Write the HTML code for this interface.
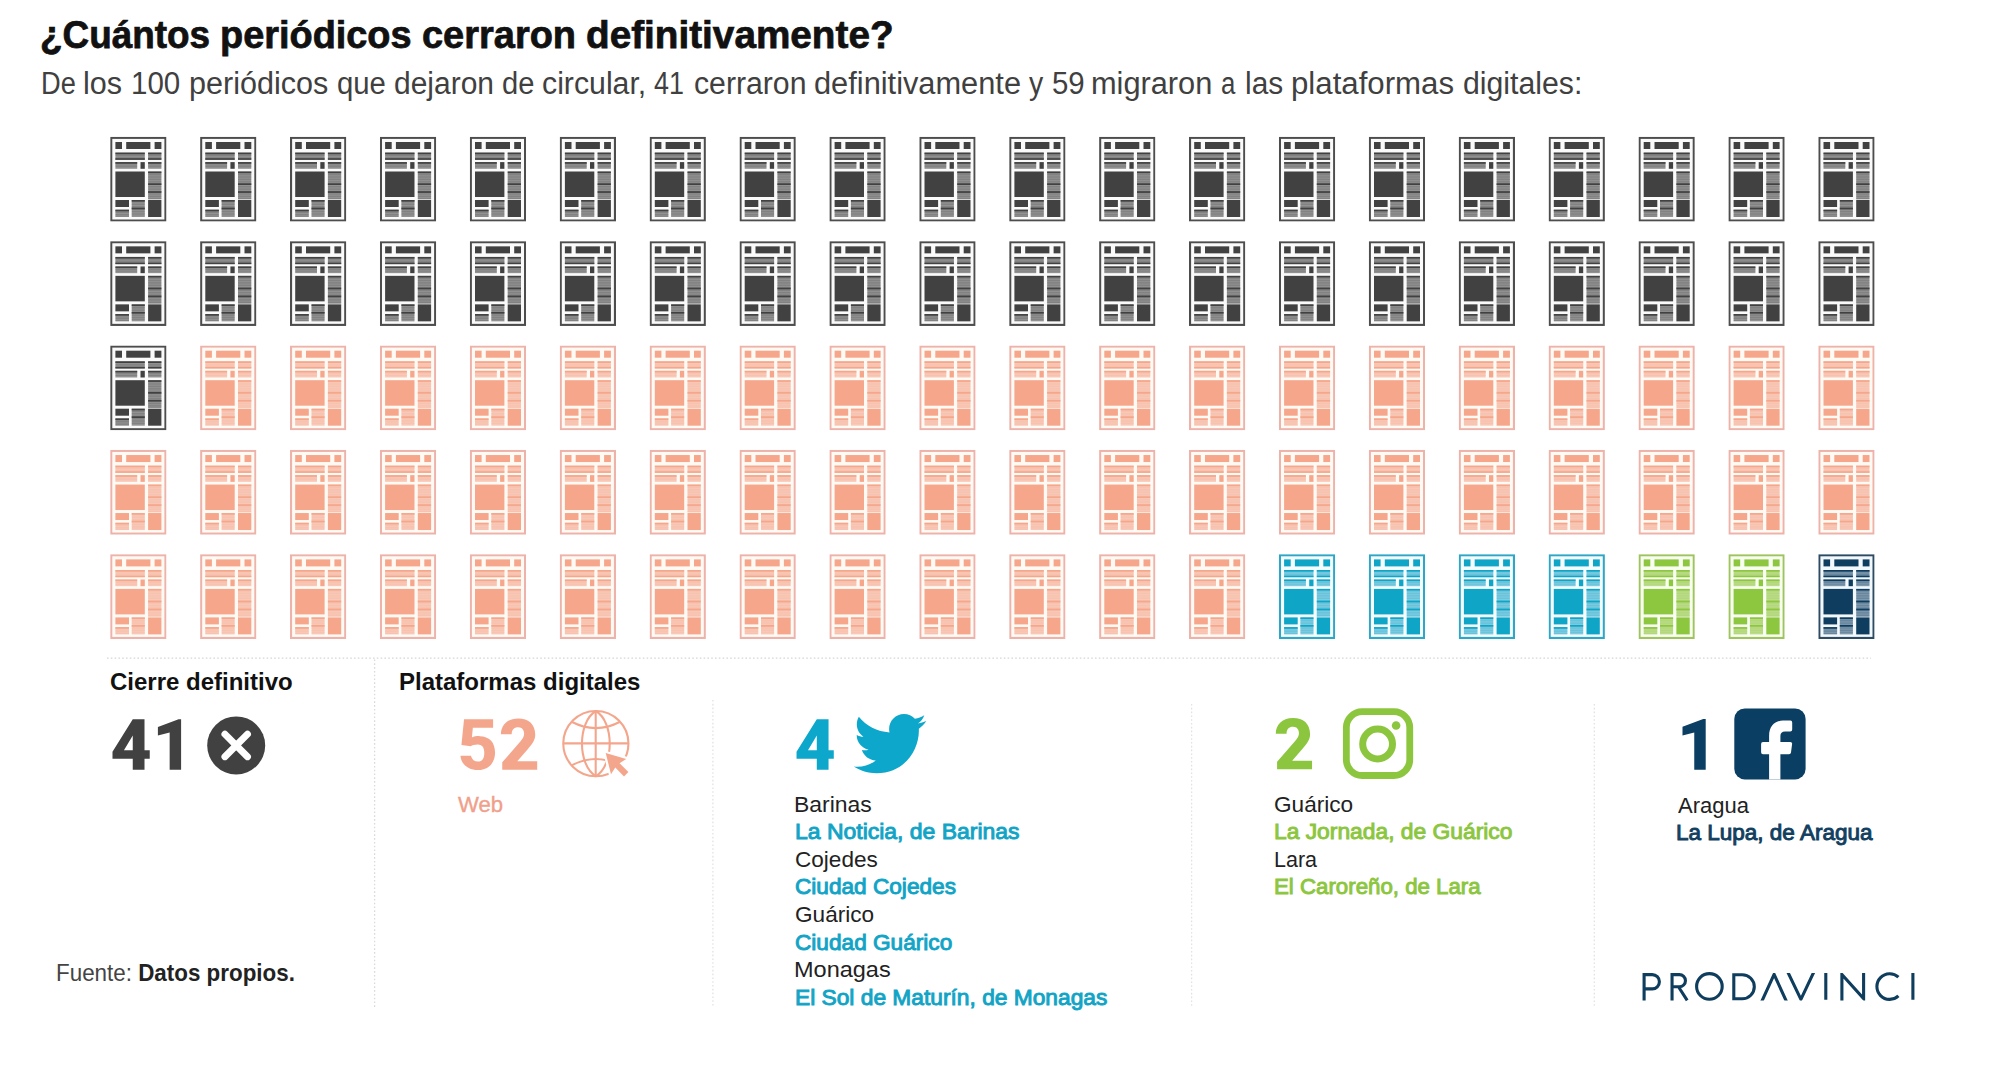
<!DOCTYPE html>
<html><head><meta charset="utf-8"><style>
html,body{margin:0;padding:0;background:#fff;}
body{width:2000px;height:1072px;position:relative;overflow:hidden;font-family:"Liberation Sans",sans-serif;}
.t{position:absolute;white-space:nowrap;transform-origin:0 0;}
svg.g{position:absolute;left:0;top:0;}
</style></head><body>
<svg class="g" width="2000" height="1072" viewBox="0 0 2000 1072">
<defs><symbol id="ig" viewBox="0 0 56.3 84.8"><rect x="1.05" y="1.05" width="54.2" height="82.7" fill="#fafafa" stroke="#4d4d4d" stroke-width="2.1"/><rect x="5.2" y="5.2" width="6.6" height="7.0" fill="#414141"/><rect x="16.0" y="5.2" width="24.2" height="7.0" fill="#414141"/><rect x="44.4" y="5.2" width="6.8" height="7.0" fill="#414141"/><rect x="5.2" y="15.8" width="29.4" height="7.2" fill="#929292"/><rect x="5.2" y="18.4" width="29.4" height="0.7" fill="#414141" fill-opacity="0.28"/><rect x="5.2" y="20.1" width="29.4" height="0.7" fill="#414141" fill-opacity="0.28"/><rect x="5.2" y="21.8" width="29.4" height="0.7" fill="#414141" fill-opacity="0.28"/><rect x="5.2" y="15.8" width="29.4" height="1.7" fill="#414141"/><rect x="5.2" y="21.4" width="29.4" height="1.6" fill="#414141"/><rect x="37.9" y="15.8" width="13.3" height="7.2" fill="#929292"/><rect x="37.9" y="18.4" width="13.3" height="0.7" fill="#414141" fill-opacity="0.28"/><rect x="37.9" y="20.1" width="13.3" height="0.7" fill="#414141" fill-opacity="0.28"/><rect x="37.9" y="21.8" width="13.3" height="0.7" fill="#414141" fill-opacity="0.28"/><rect x="37.9" y="15.8" width="13.3" height="1.7" fill="#414141"/><rect x="37.9" y="21.4" width="13.3" height="1.6" fill="#414141"/><rect x="5.2" y="25.3" width="21.8" height="6.7" fill="#929292"/><rect x="5.2" y="27.9" width="21.8" height="0.7" fill="#414141" fill-opacity="0.28"/><rect x="5.2" y="29.6" width="21.8" height="0.7" fill="#414141" fill-opacity="0.28"/><rect x="5.2" y="25.3" width="21.8" height="1.7" fill="#414141"/><rect x="30.3" y="25.3" width="4.3" height="6.7" fill="#414141"/><rect x="37.9" y="25.3" width="13.3" height="6.7" fill="#929292"/><rect x="37.9" y="27.9" width="13.3" height="0.7" fill="#414141" fill-opacity="0.28"/><rect x="37.9" y="29.6" width="13.3" height="0.7" fill="#414141" fill-opacity="0.28"/><rect x="37.9" y="25.3" width="13.3" height="1.7" fill="#414141"/><rect x="5.2" y="34.7" width="29.4" height="25.5" fill="#414141"/><rect x="37.9" y="34.7" width="13.3" height="27.9" fill="#929292"/><rect x="37.9" y="37.3" width="13.3" height="0.7" fill="#414141" fill-opacity="0.28"/><rect x="37.9" y="39.0" width="13.3" height="0.7" fill="#414141" fill-opacity="0.28"/><rect x="37.9" y="40.7" width="13.3" height="0.7" fill="#414141" fill-opacity="0.28"/><rect x="37.9" y="42.4" width="13.3" height="0.7" fill="#414141" fill-opacity="0.28"/><rect x="37.9" y="44.1" width="13.3" height="0.7" fill="#414141" fill-opacity="0.28"/><rect x="37.9" y="45.8" width="13.3" height="0.7" fill="#414141" fill-opacity="0.28"/><rect x="37.9" y="47.5" width="13.3" height="0.7" fill="#414141" fill-opacity="0.28"/><rect x="37.9" y="49.2" width="13.3" height="0.7" fill="#414141" fill-opacity="0.28"/><rect x="37.9" y="50.9" width="13.3" height="0.7" fill="#414141" fill-opacity="0.28"/><rect x="37.9" y="52.6" width="13.3" height="0.7" fill="#414141" fill-opacity="0.28"/><rect x="37.9" y="54.3" width="13.3" height="0.7" fill="#414141" fill-opacity="0.28"/><rect x="37.9" y="56.0" width="13.3" height="0.7" fill="#414141" fill-opacity="0.28"/><rect x="37.9" y="57.7" width="13.3" height="0.7" fill="#414141" fill-opacity="0.28"/><rect x="37.9" y="59.4" width="13.3" height="0.7" fill="#414141" fill-opacity="0.28"/><rect x="37.9" y="61.1" width="13.3" height="0.7" fill="#414141" fill-opacity="0.28"/><rect x="37.9" y="34.7" width="13.3" height="1.7" fill="#414141"/><rect x="37.9" y="46.5" width="13.3" height="1.7" fill="#414141"/><rect x="37.9" y="54.4" width="13.3" height="1.7" fill="#414141"/><rect x="5.2" y="63.2" width="13.6" height="7.0" fill="#414141"/><rect x="5.2" y="72.9" width="13.6" height="7.3" fill="#929292"/><rect x="5.2" y="75.5" width="13.6" height="0.7" fill="#414141" fill-opacity="0.28"/><rect x="5.2" y="77.2" width="13.6" height="0.7" fill="#414141" fill-opacity="0.28"/><rect x="5.2" y="78.9" width="13.6" height="0.7" fill="#414141" fill-opacity="0.28"/><rect x="5.2" y="72.9" width="13.6" height="1.7" fill="#414141"/><rect x="21.5" y="63.2" width="13.1" height="17.0" fill="#929292"/><rect x="21.5" y="65.8" width="13.1" height="0.7" fill="#414141" fill-opacity="0.28"/><rect x="21.5" y="67.5" width="13.1" height="0.7" fill="#414141" fill-opacity="0.28"/><rect x="21.5" y="69.2" width="13.1" height="0.7" fill="#414141" fill-opacity="0.28"/><rect x="21.5" y="70.9" width="13.1" height="0.7" fill="#414141" fill-opacity="0.28"/><rect x="21.5" y="72.6" width="13.1" height="0.7" fill="#414141" fill-opacity="0.28"/><rect x="21.5" y="74.3" width="13.1" height="0.7" fill="#414141" fill-opacity="0.28"/><rect x="21.5" y="76.0" width="13.1" height="0.7" fill="#414141" fill-opacity="0.28"/><rect x="21.5" y="77.7" width="13.1" height="0.7" fill="#414141" fill-opacity="0.28"/><rect x="21.5" y="63.2" width="13.1" height="1.7" fill="#414141"/><rect x="21.5" y="70.8" width="13.1" height="1.7" fill="#414141"/><rect x="37.9" y="63.2" width="13.3" height="17.0" fill="#414141"/></symbol><symbol id="is" viewBox="0 0 56.3 84.8"><rect x="1.05" y="1.05" width="54.2" height="82.7" fill="#fffaf4" stroke="#edb2a9" stroke-width="2.1"/><rect x="5.2" y="5.2" width="6.6" height="7.0" fill="#f5a68b"/><rect x="16.0" y="5.2" width="24.2" height="7.0" fill="#f5a68b"/><rect x="44.4" y="5.2" width="6.8" height="7.0" fill="#f5a68b"/><rect x="5.2" y="15.8" width="29.4" height="7.2" fill="#f8c9b8"/><rect x="5.2" y="18.4" width="29.4" height="0.7" fill="#f5a68b" fill-opacity="0.28"/><rect x="5.2" y="20.1" width="29.4" height="0.7" fill="#f5a68b" fill-opacity="0.28"/><rect x="5.2" y="21.8" width="29.4" height="0.7" fill="#f5a68b" fill-opacity="0.28"/><rect x="5.2" y="15.8" width="29.4" height="1.7" fill="#f5a68b"/><rect x="5.2" y="21.4" width="29.4" height="1.6" fill="#f5a68b"/><rect x="37.9" y="15.8" width="13.3" height="7.2" fill="#f8c9b8"/><rect x="37.9" y="18.4" width="13.3" height="0.7" fill="#f5a68b" fill-opacity="0.28"/><rect x="37.9" y="20.1" width="13.3" height="0.7" fill="#f5a68b" fill-opacity="0.28"/><rect x="37.9" y="21.8" width="13.3" height="0.7" fill="#f5a68b" fill-opacity="0.28"/><rect x="37.9" y="15.8" width="13.3" height="1.7" fill="#f5a68b"/><rect x="37.9" y="21.4" width="13.3" height="1.6" fill="#f5a68b"/><rect x="5.2" y="25.3" width="21.8" height="6.7" fill="#f8c9b8"/><rect x="5.2" y="27.9" width="21.8" height="0.7" fill="#f5a68b" fill-opacity="0.28"/><rect x="5.2" y="29.6" width="21.8" height="0.7" fill="#f5a68b" fill-opacity="0.28"/><rect x="5.2" y="25.3" width="21.8" height="1.7" fill="#f5a68b"/><rect x="30.3" y="25.3" width="4.3" height="6.7" fill="#f5a68b"/><rect x="37.9" y="25.3" width="13.3" height="6.7" fill="#f8c9b8"/><rect x="37.9" y="27.9" width="13.3" height="0.7" fill="#f5a68b" fill-opacity="0.28"/><rect x="37.9" y="29.6" width="13.3" height="0.7" fill="#f5a68b" fill-opacity="0.28"/><rect x="37.9" y="25.3" width="13.3" height="1.7" fill="#f5a68b"/><rect x="5.2" y="34.7" width="29.4" height="25.5" fill="#f5a68b"/><rect x="37.9" y="34.7" width="13.3" height="27.9" fill="#f8c9b8"/><rect x="37.9" y="37.3" width="13.3" height="0.7" fill="#f5a68b" fill-opacity="0.28"/><rect x="37.9" y="39.0" width="13.3" height="0.7" fill="#f5a68b" fill-opacity="0.28"/><rect x="37.9" y="40.7" width="13.3" height="0.7" fill="#f5a68b" fill-opacity="0.28"/><rect x="37.9" y="42.4" width="13.3" height="0.7" fill="#f5a68b" fill-opacity="0.28"/><rect x="37.9" y="44.1" width="13.3" height="0.7" fill="#f5a68b" fill-opacity="0.28"/><rect x="37.9" y="45.8" width="13.3" height="0.7" fill="#f5a68b" fill-opacity="0.28"/><rect x="37.9" y="47.5" width="13.3" height="0.7" fill="#f5a68b" fill-opacity="0.28"/><rect x="37.9" y="49.2" width="13.3" height="0.7" fill="#f5a68b" fill-opacity="0.28"/><rect x="37.9" y="50.9" width="13.3" height="0.7" fill="#f5a68b" fill-opacity="0.28"/><rect x="37.9" y="52.6" width="13.3" height="0.7" fill="#f5a68b" fill-opacity="0.28"/><rect x="37.9" y="54.3" width="13.3" height="0.7" fill="#f5a68b" fill-opacity="0.28"/><rect x="37.9" y="56.0" width="13.3" height="0.7" fill="#f5a68b" fill-opacity="0.28"/><rect x="37.9" y="57.7" width="13.3" height="0.7" fill="#f5a68b" fill-opacity="0.28"/><rect x="37.9" y="59.4" width="13.3" height="0.7" fill="#f5a68b" fill-opacity="0.28"/><rect x="37.9" y="61.1" width="13.3" height="0.7" fill="#f5a68b" fill-opacity="0.28"/><rect x="37.9" y="34.7" width="13.3" height="1.7" fill="#f5a68b"/><rect x="37.9" y="46.5" width="13.3" height="1.7" fill="#f5a68b"/><rect x="37.9" y="54.4" width="13.3" height="1.7" fill="#f5a68b"/><rect x="5.2" y="63.2" width="13.6" height="7.0" fill="#f5a68b"/><rect x="5.2" y="72.9" width="13.6" height="7.3" fill="#f8c9b8"/><rect x="5.2" y="75.5" width="13.6" height="0.7" fill="#f5a68b" fill-opacity="0.28"/><rect x="5.2" y="77.2" width="13.6" height="0.7" fill="#f5a68b" fill-opacity="0.28"/><rect x="5.2" y="78.9" width="13.6" height="0.7" fill="#f5a68b" fill-opacity="0.28"/><rect x="5.2" y="72.9" width="13.6" height="1.7" fill="#f5a68b"/><rect x="21.5" y="63.2" width="13.1" height="17.0" fill="#f8c9b8"/><rect x="21.5" y="65.8" width="13.1" height="0.7" fill="#f5a68b" fill-opacity="0.28"/><rect x="21.5" y="67.5" width="13.1" height="0.7" fill="#f5a68b" fill-opacity="0.28"/><rect x="21.5" y="69.2" width="13.1" height="0.7" fill="#f5a68b" fill-opacity="0.28"/><rect x="21.5" y="70.9" width="13.1" height="0.7" fill="#f5a68b" fill-opacity="0.28"/><rect x="21.5" y="72.6" width="13.1" height="0.7" fill="#f5a68b" fill-opacity="0.28"/><rect x="21.5" y="74.3" width="13.1" height="0.7" fill="#f5a68b" fill-opacity="0.28"/><rect x="21.5" y="76.0" width="13.1" height="0.7" fill="#f5a68b" fill-opacity="0.28"/><rect x="21.5" y="77.7" width="13.1" height="0.7" fill="#f5a68b" fill-opacity="0.28"/><rect x="21.5" y="63.2" width="13.1" height="1.7" fill="#f5a68b"/><rect x="21.5" y="70.8" width="13.1" height="1.7" fill="#f5a68b"/><rect x="37.9" y="63.2" width="13.3" height="17.0" fill="#f5a68b"/></symbol><symbol id="ib" viewBox="0 0 56.3 84.8"><rect x="1.05" y="1.05" width="54.2" height="82.7" fill="#f4fcff" stroke="#2ea6c6" stroke-width="2.1"/><rect x="5.2" y="5.2" width="6.6" height="7.0" fill="#0fa5c7"/><rect x="16.0" y="5.2" width="24.2" height="7.0" fill="#0fa5c7"/><rect x="44.4" y="5.2" width="6.8" height="7.0" fill="#0fa5c7"/><rect x="5.2" y="15.8" width="29.4" height="7.2" fill="#7fcbe0"/><rect x="5.2" y="18.4" width="29.4" height="0.7" fill="#0fa5c7" fill-opacity="0.28"/><rect x="5.2" y="20.1" width="29.4" height="0.7" fill="#0fa5c7" fill-opacity="0.28"/><rect x="5.2" y="21.8" width="29.4" height="0.7" fill="#0fa5c7" fill-opacity="0.28"/><rect x="5.2" y="15.8" width="29.4" height="1.7" fill="#0fa5c7"/><rect x="5.2" y="21.4" width="29.4" height="1.6" fill="#0fa5c7"/><rect x="37.9" y="15.8" width="13.3" height="7.2" fill="#7fcbe0"/><rect x="37.9" y="18.4" width="13.3" height="0.7" fill="#0fa5c7" fill-opacity="0.28"/><rect x="37.9" y="20.1" width="13.3" height="0.7" fill="#0fa5c7" fill-opacity="0.28"/><rect x="37.9" y="21.8" width="13.3" height="0.7" fill="#0fa5c7" fill-opacity="0.28"/><rect x="37.9" y="15.8" width="13.3" height="1.7" fill="#0fa5c7"/><rect x="37.9" y="21.4" width="13.3" height="1.6" fill="#0fa5c7"/><rect x="5.2" y="25.3" width="21.8" height="6.7" fill="#7fcbe0"/><rect x="5.2" y="27.9" width="21.8" height="0.7" fill="#0fa5c7" fill-opacity="0.28"/><rect x="5.2" y="29.6" width="21.8" height="0.7" fill="#0fa5c7" fill-opacity="0.28"/><rect x="5.2" y="25.3" width="21.8" height="1.7" fill="#0fa5c7"/><rect x="30.3" y="25.3" width="4.3" height="6.7" fill="#0fa5c7"/><rect x="37.9" y="25.3" width="13.3" height="6.7" fill="#7fcbe0"/><rect x="37.9" y="27.9" width="13.3" height="0.7" fill="#0fa5c7" fill-opacity="0.28"/><rect x="37.9" y="29.6" width="13.3" height="0.7" fill="#0fa5c7" fill-opacity="0.28"/><rect x="37.9" y="25.3" width="13.3" height="1.7" fill="#0fa5c7"/><rect x="5.2" y="34.7" width="29.4" height="25.5" fill="#0fa5c7"/><rect x="37.9" y="34.7" width="13.3" height="27.9" fill="#7fcbe0"/><rect x="37.9" y="37.3" width="13.3" height="0.7" fill="#0fa5c7" fill-opacity="0.28"/><rect x="37.9" y="39.0" width="13.3" height="0.7" fill="#0fa5c7" fill-opacity="0.28"/><rect x="37.9" y="40.7" width="13.3" height="0.7" fill="#0fa5c7" fill-opacity="0.28"/><rect x="37.9" y="42.4" width="13.3" height="0.7" fill="#0fa5c7" fill-opacity="0.28"/><rect x="37.9" y="44.1" width="13.3" height="0.7" fill="#0fa5c7" fill-opacity="0.28"/><rect x="37.9" y="45.8" width="13.3" height="0.7" fill="#0fa5c7" fill-opacity="0.28"/><rect x="37.9" y="47.5" width="13.3" height="0.7" fill="#0fa5c7" fill-opacity="0.28"/><rect x="37.9" y="49.2" width="13.3" height="0.7" fill="#0fa5c7" fill-opacity="0.28"/><rect x="37.9" y="50.9" width="13.3" height="0.7" fill="#0fa5c7" fill-opacity="0.28"/><rect x="37.9" y="52.6" width="13.3" height="0.7" fill="#0fa5c7" fill-opacity="0.28"/><rect x="37.9" y="54.3" width="13.3" height="0.7" fill="#0fa5c7" fill-opacity="0.28"/><rect x="37.9" y="56.0" width="13.3" height="0.7" fill="#0fa5c7" fill-opacity="0.28"/><rect x="37.9" y="57.7" width="13.3" height="0.7" fill="#0fa5c7" fill-opacity="0.28"/><rect x="37.9" y="59.4" width="13.3" height="0.7" fill="#0fa5c7" fill-opacity="0.28"/><rect x="37.9" y="61.1" width="13.3" height="0.7" fill="#0fa5c7" fill-opacity="0.28"/><rect x="37.9" y="34.7" width="13.3" height="1.7" fill="#0fa5c7"/><rect x="37.9" y="46.5" width="13.3" height="1.7" fill="#0fa5c7"/><rect x="37.9" y="54.4" width="13.3" height="1.7" fill="#0fa5c7"/><rect x="5.2" y="63.2" width="13.6" height="7.0" fill="#0fa5c7"/><rect x="5.2" y="72.9" width="13.6" height="7.3" fill="#7fcbe0"/><rect x="5.2" y="75.5" width="13.6" height="0.7" fill="#0fa5c7" fill-opacity="0.28"/><rect x="5.2" y="77.2" width="13.6" height="0.7" fill="#0fa5c7" fill-opacity="0.28"/><rect x="5.2" y="78.9" width="13.6" height="0.7" fill="#0fa5c7" fill-opacity="0.28"/><rect x="5.2" y="72.9" width="13.6" height="1.7" fill="#0fa5c7"/><rect x="21.5" y="63.2" width="13.1" height="17.0" fill="#7fcbe0"/><rect x="21.5" y="65.8" width="13.1" height="0.7" fill="#0fa5c7" fill-opacity="0.28"/><rect x="21.5" y="67.5" width="13.1" height="0.7" fill="#0fa5c7" fill-opacity="0.28"/><rect x="21.5" y="69.2" width="13.1" height="0.7" fill="#0fa5c7" fill-opacity="0.28"/><rect x="21.5" y="70.9" width="13.1" height="0.7" fill="#0fa5c7" fill-opacity="0.28"/><rect x="21.5" y="72.6" width="13.1" height="0.7" fill="#0fa5c7" fill-opacity="0.28"/><rect x="21.5" y="74.3" width="13.1" height="0.7" fill="#0fa5c7" fill-opacity="0.28"/><rect x="21.5" y="76.0" width="13.1" height="0.7" fill="#0fa5c7" fill-opacity="0.28"/><rect x="21.5" y="77.7" width="13.1" height="0.7" fill="#0fa5c7" fill-opacity="0.28"/><rect x="21.5" y="63.2" width="13.1" height="1.7" fill="#0fa5c7"/><rect x="21.5" y="70.8" width="13.1" height="1.7" fill="#0fa5c7"/><rect x="37.9" y="63.2" width="13.3" height="17.0" fill="#0fa5c7"/></symbol><symbol id="igr" viewBox="0 0 56.3 84.8"><rect x="1.05" y="1.05" width="54.2" height="82.7" fill="#f8fff0" stroke="#9fc45f" stroke-width="2.1"/><rect x="5.2" y="5.2" width="6.6" height="7.0" fill="#8dc63f"/><rect x="16.0" y="5.2" width="24.2" height="7.0" fill="#8dc63f"/><rect x="44.4" y="5.2" width="6.8" height="7.0" fill="#8dc63f"/><rect x="5.2" y="15.8" width="29.4" height="7.2" fill="#bddc8a"/><rect x="5.2" y="18.4" width="29.4" height="0.7" fill="#8dc63f" fill-opacity="0.28"/><rect x="5.2" y="20.1" width="29.4" height="0.7" fill="#8dc63f" fill-opacity="0.28"/><rect x="5.2" y="21.8" width="29.4" height="0.7" fill="#8dc63f" fill-opacity="0.28"/><rect x="5.2" y="15.8" width="29.4" height="1.7" fill="#8dc63f"/><rect x="5.2" y="21.4" width="29.4" height="1.6" fill="#8dc63f"/><rect x="37.9" y="15.8" width="13.3" height="7.2" fill="#bddc8a"/><rect x="37.9" y="18.4" width="13.3" height="0.7" fill="#8dc63f" fill-opacity="0.28"/><rect x="37.9" y="20.1" width="13.3" height="0.7" fill="#8dc63f" fill-opacity="0.28"/><rect x="37.9" y="21.8" width="13.3" height="0.7" fill="#8dc63f" fill-opacity="0.28"/><rect x="37.9" y="15.8" width="13.3" height="1.7" fill="#8dc63f"/><rect x="37.9" y="21.4" width="13.3" height="1.6" fill="#8dc63f"/><rect x="5.2" y="25.3" width="21.8" height="6.7" fill="#bddc8a"/><rect x="5.2" y="27.9" width="21.8" height="0.7" fill="#8dc63f" fill-opacity="0.28"/><rect x="5.2" y="29.6" width="21.8" height="0.7" fill="#8dc63f" fill-opacity="0.28"/><rect x="5.2" y="25.3" width="21.8" height="1.7" fill="#8dc63f"/><rect x="30.3" y="25.3" width="4.3" height="6.7" fill="#8dc63f"/><rect x="37.9" y="25.3" width="13.3" height="6.7" fill="#bddc8a"/><rect x="37.9" y="27.9" width="13.3" height="0.7" fill="#8dc63f" fill-opacity="0.28"/><rect x="37.9" y="29.6" width="13.3" height="0.7" fill="#8dc63f" fill-opacity="0.28"/><rect x="37.9" y="25.3" width="13.3" height="1.7" fill="#8dc63f"/><rect x="5.2" y="34.7" width="29.4" height="25.5" fill="#8dc63f"/><rect x="37.9" y="34.7" width="13.3" height="27.9" fill="#bddc8a"/><rect x="37.9" y="37.3" width="13.3" height="0.7" fill="#8dc63f" fill-opacity="0.28"/><rect x="37.9" y="39.0" width="13.3" height="0.7" fill="#8dc63f" fill-opacity="0.28"/><rect x="37.9" y="40.7" width="13.3" height="0.7" fill="#8dc63f" fill-opacity="0.28"/><rect x="37.9" y="42.4" width="13.3" height="0.7" fill="#8dc63f" fill-opacity="0.28"/><rect x="37.9" y="44.1" width="13.3" height="0.7" fill="#8dc63f" fill-opacity="0.28"/><rect x="37.9" y="45.8" width="13.3" height="0.7" fill="#8dc63f" fill-opacity="0.28"/><rect x="37.9" y="47.5" width="13.3" height="0.7" fill="#8dc63f" fill-opacity="0.28"/><rect x="37.9" y="49.2" width="13.3" height="0.7" fill="#8dc63f" fill-opacity="0.28"/><rect x="37.9" y="50.9" width="13.3" height="0.7" fill="#8dc63f" fill-opacity="0.28"/><rect x="37.9" y="52.6" width="13.3" height="0.7" fill="#8dc63f" fill-opacity="0.28"/><rect x="37.9" y="54.3" width="13.3" height="0.7" fill="#8dc63f" fill-opacity="0.28"/><rect x="37.9" y="56.0" width="13.3" height="0.7" fill="#8dc63f" fill-opacity="0.28"/><rect x="37.9" y="57.7" width="13.3" height="0.7" fill="#8dc63f" fill-opacity="0.28"/><rect x="37.9" y="59.4" width="13.3" height="0.7" fill="#8dc63f" fill-opacity="0.28"/><rect x="37.9" y="61.1" width="13.3" height="0.7" fill="#8dc63f" fill-opacity="0.28"/><rect x="37.9" y="34.7" width="13.3" height="1.7" fill="#8dc63f"/><rect x="37.9" y="46.5" width="13.3" height="1.7" fill="#8dc63f"/><rect x="37.9" y="54.4" width="13.3" height="1.7" fill="#8dc63f"/><rect x="5.2" y="63.2" width="13.6" height="7.0" fill="#8dc63f"/><rect x="5.2" y="72.9" width="13.6" height="7.3" fill="#bddc8a"/><rect x="5.2" y="75.5" width="13.6" height="0.7" fill="#8dc63f" fill-opacity="0.28"/><rect x="5.2" y="77.2" width="13.6" height="0.7" fill="#8dc63f" fill-opacity="0.28"/><rect x="5.2" y="78.9" width="13.6" height="0.7" fill="#8dc63f" fill-opacity="0.28"/><rect x="5.2" y="72.9" width="13.6" height="1.7" fill="#8dc63f"/><rect x="21.5" y="63.2" width="13.1" height="17.0" fill="#bddc8a"/><rect x="21.5" y="65.8" width="13.1" height="0.7" fill="#8dc63f" fill-opacity="0.28"/><rect x="21.5" y="67.5" width="13.1" height="0.7" fill="#8dc63f" fill-opacity="0.28"/><rect x="21.5" y="69.2" width="13.1" height="0.7" fill="#8dc63f" fill-opacity="0.28"/><rect x="21.5" y="70.9" width="13.1" height="0.7" fill="#8dc63f" fill-opacity="0.28"/><rect x="21.5" y="72.6" width="13.1" height="0.7" fill="#8dc63f" fill-opacity="0.28"/><rect x="21.5" y="74.3" width="13.1" height="0.7" fill="#8dc63f" fill-opacity="0.28"/><rect x="21.5" y="76.0" width="13.1" height="0.7" fill="#8dc63f" fill-opacity="0.28"/><rect x="21.5" y="77.7" width="13.1" height="0.7" fill="#8dc63f" fill-opacity="0.28"/><rect x="21.5" y="63.2" width="13.1" height="1.7" fill="#8dc63f"/><rect x="21.5" y="70.8" width="13.1" height="1.7" fill="#8dc63f"/><rect x="37.9" y="63.2" width="13.3" height="17.0" fill="#8dc63f"/></symbol><symbol id="in" viewBox="0 0 56.3 84.8"><rect x="1.05" y="1.05" width="54.2" height="82.7" fill="#f2f8fc" stroke="#2d4c64" stroke-width="2.1"/><rect x="5.2" y="5.2" width="6.6" height="7.0" fill="#0f3d5f"/><rect x="16.0" y="5.2" width="24.2" height="7.0" fill="#0f3d5f"/><rect x="44.4" y="5.2" width="6.8" height="7.0" fill="#0f3d5f"/><rect x="5.2" y="15.8" width="29.4" height="7.2" fill="#7f99ad"/><rect x="5.2" y="18.4" width="29.4" height="0.7" fill="#0f3d5f" fill-opacity="0.28"/><rect x="5.2" y="20.1" width="29.4" height="0.7" fill="#0f3d5f" fill-opacity="0.28"/><rect x="5.2" y="21.8" width="29.4" height="0.7" fill="#0f3d5f" fill-opacity="0.28"/><rect x="5.2" y="15.8" width="29.4" height="1.7" fill="#0f3d5f"/><rect x="5.2" y="21.4" width="29.4" height="1.6" fill="#0f3d5f"/><rect x="37.9" y="15.8" width="13.3" height="7.2" fill="#7f99ad"/><rect x="37.9" y="18.4" width="13.3" height="0.7" fill="#0f3d5f" fill-opacity="0.28"/><rect x="37.9" y="20.1" width="13.3" height="0.7" fill="#0f3d5f" fill-opacity="0.28"/><rect x="37.9" y="21.8" width="13.3" height="0.7" fill="#0f3d5f" fill-opacity="0.28"/><rect x="37.9" y="15.8" width="13.3" height="1.7" fill="#0f3d5f"/><rect x="37.9" y="21.4" width="13.3" height="1.6" fill="#0f3d5f"/><rect x="5.2" y="25.3" width="21.8" height="6.7" fill="#7f99ad"/><rect x="5.2" y="27.9" width="21.8" height="0.7" fill="#0f3d5f" fill-opacity="0.28"/><rect x="5.2" y="29.6" width="21.8" height="0.7" fill="#0f3d5f" fill-opacity="0.28"/><rect x="5.2" y="25.3" width="21.8" height="1.7" fill="#0f3d5f"/><rect x="30.3" y="25.3" width="4.3" height="6.7" fill="#0f3d5f"/><rect x="37.9" y="25.3" width="13.3" height="6.7" fill="#7f99ad"/><rect x="37.9" y="27.9" width="13.3" height="0.7" fill="#0f3d5f" fill-opacity="0.28"/><rect x="37.9" y="29.6" width="13.3" height="0.7" fill="#0f3d5f" fill-opacity="0.28"/><rect x="37.9" y="25.3" width="13.3" height="1.7" fill="#0f3d5f"/><rect x="5.2" y="34.7" width="29.4" height="25.5" fill="#0f3d5f"/><rect x="37.9" y="34.7" width="13.3" height="27.9" fill="#7f99ad"/><rect x="37.9" y="37.3" width="13.3" height="0.7" fill="#0f3d5f" fill-opacity="0.28"/><rect x="37.9" y="39.0" width="13.3" height="0.7" fill="#0f3d5f" fill-opacity="0.28"/><rect x="37.9" y="40.7" width="13.3" height="0.7" fill="#0f3d5f" fill-opacity="0.28"/><rect x="37.9" y="42.4" width="13.3" height="0.7" fill="#0f3d5f" fill-opacity="0.28"/><rect x="37.9" y="44.1" width="13.3" height="0.7" fill="#0f3d5f" fill-opacity="0.28"/><rect x="37.9" y="45.8" width="13.3" height="0.7" fill="#0f3d5f" fill-opacity="0.28"/><rect x="37.9" y="47.5" width="13.3" height="0.7" fill="#0f3d5f" fill-opacity="0.28"/><rect x="37.9" y="49.2" width="13.3" height="0.7" fill="#0f3d5f" fill-opacity="0.28"/><rect x="37.9" y="50.9" width="13.3" height="0.7" fill="#0f3d5f" fill-opacity="0.28"/><rect x="37.9" y="52.6" width="13.3" height="0.7" fill="#0f3d5f" fill-opacity="0.28"/><rect x="37.9" y="54.3" width="13.3" height="0.7" fill="#0f3d5f" fill-opacity="0.28"/><rect x="37.9" y="56.0" width="13.3" height="0.7" fill="#0f3d5f" fill-opacity="0.28"/><rect x="37.9" y="57.7" width="13.3" height="0.7" fill="#0f3d5f" fill-opacity="0.28"/><rect x="37.9" y="59.4" width="13.3" height="0.7" fill="#0f3d5f" fill-opacity="0.28"/><rect x="37.9" y="61.1" width="13.3" height="0.7" fill="#0f3d5f" fill-opacity="0.28"/><rect x="37.9" y="34.7" width="13.3" height="1.7" fill="#0f3d5f"/><rect x="37.9" y="46.5" width="13.3" height="1.7" fill="#0f3d5f"/><rect x="37.9" y="54.4" width="13.3" height="1.7" fill="#0f3d5f"/><rect x="5.2" y="63.2" width="13.6" height="7.0" fill="#0f3d5f"/><rect x="5.2" y="72.9" width="13.6" height="7.3" fill="#7f99ad"/><rect x="5.2" y="75.5" width="13.6" height="0.7" fill="#0f3d5f" fill-opacity="0.28"/><rect x="5.2" y="77.2" width="13.6" height="0.7" fill="#0f3d5f" fill-opacity="0.28"/><rect x="5.2" y="78.9" width="13.6" height="0.7" fill="#0f3d5f" fill-opacity="0.28"/><rect x="5.2" y="72.9" width="13.6" height="1.7" fill="#0f3d5f"/><rect x="21.5" y="63.2" width="13.1" height="17.0" fill="#7f99ad"/><rect x="21.5" y="65.8" width="13.1" height="0.7" fill="#0f3d5f" fill-opacity="0.28"/><rect x="21.5" y="67.5" width="13.1" height="0.7" fill="#0f3d5f" fill-opacity="0.28"/><rect x="21.5" y="69.2" width="13.1" height="0.7" fill="#0f3d5f" fill-opacity="0.28"/><rect x="21.5" y="70.9" width="13.1" height="0.7" fill="#0f3d5f" fill-opacity="0.28"/><rect x="21.5" y="72.6" width="13.1" height="0.7" fill="#0f3d5f" fill-opacity="0.28"/><rect x="21.5" y="74.3" width="13.1" height="0.7" fill="#0f3d5f" fill-opacity="0.28"/><rect x="21.5" y="76.0" width="13.1" height="0.7" fill="#0f3d5f" fill-opacity="0.28"/><rect x="21.5" y="77.7" width="13.1" height="0.7" fill="#0f3d5f" fill-opacity="0.28"/><rect x="21.5" y="63.2" width="13.1" height="1.7" fill="#0f3d5f"/><rect x="21.5" y="70.8" width="13.1" height="1.7" fill="#0f3d5f"/><rect x="37.9" y="63.2" width="13.3" height="17.0" fill="#0f3d5f"/></symbol></defs>
<use href="#ig" x="110.20" y="136.80" width="56.3" height="84.8"/><use href="#ig" x="200.10" y="136.80" width="56.3" height="84.8"/><use href="#ig" x="290.00" y="136.80" width="56.3" height="84.8"/><use href="#ig" x="379.90" y="136.80" width="56.3" height="84.8"/><use href="#ig" x="469.80" y="136.80" width="56.3" height="84.8"/><use href="#ig" x="559.70" y="136.80" width="56.3" height="84.8"/><use href="#ig" x="649.60" y="136.80" width="56.3" height="84.8"/><use href="#ig" x="739.50" y="136.80" width="56.3" height="84.8"/><use href="#ig" x="829.40" y="136.80" width="56.3" height="84.8"/><use href="#ig" x="919.30" y="136.80" width="56.3" height="84.8"/><use href="#ig" x="1009.20" y="136.80" width="56.3" height="84.8"/><use href="#ig" x="1099.10" y="136.80" width="56.3" height="84.8"/><use href="#ig" x="1189.00" y="136.80" width="56.3" height="84.8"/><use href="#ig" x="1278.90" y="136.80" width="56.3" height="84.8"/><use href="#ig" x="1368.80" y="136.80" width="56.3" height="84.8"/><use href="#ig" x="1458.70" y="136.80" width="56.3" height="84.8"/><use href="#ig" x="1548.60" y="136.80" width="56.3" height="84.8"/><use href="#ig" x="1638.50" y="136.80" width="56.3" height="84.8"/><use href="#ig" x="1728.40" y="136.80" width="56.3" height="84.8"/><use href="#ig" x="1818.30" y="136.80" width="56.3" height="84.8"/><use href="#ig" x="110.20" y="241.15" width="56.3" height="84.8"/><use href="#ig" x="200.10" y="241.15" width="56.3" height="84.8"/><use href="#ig" x="290.00" y="241.15" width="56.3" height="84.8"/><use href="#ig" x="379.90" y="241.15" width="56.3" height="84.8"/><use href="#ig" x="469.80" y="241.15" width="56.3" height="84.8"/><use href="#ig" x="559.70" y="241.15" width="56.3" height="84.8"/><use href="#ig" x="649.60" y="241.15" width="56.3" height="84.8"/><use href="#ig" x="739.50" y="241.15" width="56.3" height="84.8"/><use href="#ig" x="829.40" y="241.15" width="56.3" height="84.8"/><use href="#ig" x="919.30" y="241.15" width="56.3" height="84.8"/><use href="#ig" x="1009.20" y="241.15" width="56.3" height="84.8"/><use href="#ig" x="1099.10" y="241.15" width="56.3" height="84.8"/><use href="#ig" x="1189.00" y="241.15" width="56.3" height="84.8"/><use href="#ig" x="1278.90" y="241.15" width="56.3" height="84.8"/><use href="#ig" x="1368.80" y="241.15" width="56.3" height="84.8"/><use href="#ig" x="1458.70" y="241.15" width="56.3" height="84.8"/><use href="#ig" x="1548.60" y="241.15" width="56.3" height="84.8"/><use href="#ig" x="1638.50" y="241.15" width="56.3" height="84.8"/><use href="#ig" x="1728.40" y="241.15" width="56.3" height="84.8"/><use href="#ig" x="1818.30" y="241.15" width="56.3" height="84.8"/><use href="#ig" x="110.20" y="345.50" width="56.3" height="84.8"/><use href="#is" x="200.10" y="345.50" width="56.3" height="84.8"/><use href="#is" x="290.00" y="345.50" width="56.3" height="84.8"/><use href="#is" x="379.90" y="345.50" width="56.3" height="84.8"/><use href="#is" x="469.80" y="345.50" width="56.3" height="84.8"/><use href="#is" x="559.70" y="345.50" width="56.3" height="84.8"/><use href="#is" x="649.60" y="345.50" width="56.3" height="84.8"/><use href="#is" x="739.50" y="345.50" width="56.3" height="84.8"/><use href="#is" x="829.40" y="345.50" width="56.3" height="84.8"/><use href="#is" x="919.30" y="345.50" width="56.3" height="84.8"/><use href="#is" x="1009.20" y="345.50" width="56.3" height="84.8"/><use href="#is" x="1099.10" y="345.50" width="56.3" height="84.8"/><use href="#is" x="1189.00" y="345.50" width="56.3" height="84.8"/><use href="#is" x="1278.90" y="345.50" width="56.3" height="84.8"/><use href="#is" x="1368.80" y="345.50" width="56.3" height="84.8"/><use href="#is" x="1458.70" y="345.50" width="56.3" height="84.8"/><use href="#is" x="1548.60" y="345.50" width="56.3" height="84.8"/><use href="#is" x="1638.50" y="345.50" width="56.3" height="84.8"/><use href="#is" x="1728.40" y="345.50" width="56.3" height="84.8"/><use href="#is" x="1818.30" y="345.50" width="56.3" height="84.8"/><use href="#is" x="110.20" y="449.85" width="56.3" height="84.8"/><use href="#is" x="200.10" y="449.85" width="56.3" height="84.8"/><use href="#is" x="290.00" y="449.85" width="56.3" height="84.8"/><use href="#is" x="379.90" y="449.85" width="56.3" height="84.8"/><use href="#is" x="469.80" y="449.85" width="56.3" height="84.8"/><use href="#is" x="559.70" y="449.85" width="56.3" height="84.8"/><use href="#is" x="649.60" y="449.85" width="56.3" height="84.8"/><use href="#is" x="739.50" y="449.85" width="56.3" height="84.8"/><use href="#is" x="829.40" y="449.85" width="56.3" height="84.8"/><use href="#is" x="919.30" y="449.85" width="56.3" height="84.8"/><use href="#is" x="1009.20" y="449.85" width="56.3" height="84.8"/><use href="#is" x="1099.10" y="449.85" width="56.3" height="84.8"/><use href="#is" x="1189.00" y="449.85" width="56.3" height="84.8"/><use href="#is" x="1278.90" y="449.85" width="56.3" height="84.8"/><use href="#is" x="1368.80" y="449.85" width="56.3" height="84.8"/><use href="#is" x="1458.70" y="449.85" width="56.3" height="84.8"/><use href="#is" x="1548.60" y="449.85" width="56.3" height="84.8"/><use href="#is" x="1638.50" y="449.85" width="56.3" height="84.8"/><use href="#is" x="1728.40" y="449.85" width="56.3" height="84.8"/><use href="#is" x="1818.30" y="449.85" width="56.3" height="84.8"/><use href="#is" x="110.20" y="554.20" width="56.3" height="84.8"/><use href="#is" x="200.10" y="554.20" width="56.3" height="84.8"/><use href="#is" x="290.00" y="554.20" width="56.3" height="84.8"/><use href="#is" x="379.90" y="554.20" width="56.3" height="84.8"/><use href="#is" x="469.80" y="554.20" width="56.3" height="84.8"/><use href="#is" x="559.70" y="554.20" width="56.3" height="84.8"/><use href="#is" x="649.60" y="554.20" width="56.3" height="84.8"/><use href="#is" x="739.50" y="554.20" width="56.3" height="84.8"/><use href="#is" x="829.40" y="554.20" width="56.3" height="84.8"/><use href="#is" x="919.30" y="554.20" width="56.3" height="84.8"/><use href="#is" x="1009.20" y="554.20" width="56.3" height="84.8"/><use href="#is" x="1099.10" y="554.20" width="56.3" height="84.8"/><use href="#is" x="1189.00" y="554.20" width="56.3" height="84.8"/><use href="#ib" x="1278.90" y="554.20" width="56.3" height="84.8"/><use href="#ib" x="1368.80" y="554.20" width="56.3" height="84.8"/><use href="#ib" x="1458.70" y="554.20" width="56.3" height="84.8"/><use href="#ib" x="1548.60" y="554.20" width="56.3" height="84.8"/><use href="#igr" x="1638.50" y="554.20" width="56.3" height="84.8"/><use href="#igr" x="1728.40" y="554.20" width="56.3" height="84.8"/><use href="#in" x="1818.30" y="554.20" width="56.3" height="84.8"/>
<line x1="107" y1="658.2" x2="1871" y2="658.2" stroke="#d6d6d6" stroke-width="1.3" stroke-dasharray="1.6 2.2"/>
<line x1="374.6" y1="659.5" x2="374.6" y2="1007" stroke="#dadada" stroke-width="1.3" stroke-dasharray="1.6 2.2"/>
<line x1="712.9" y1="700" x2="712.9" y2="1007" stroke="#e2e2e2" stroke-width="1.3" stroke-dasharray="1.6 2.2"/>
<line x1="1191.6" y1="704" x2="1191.6" y2="1007" stroke="#e2e2e2" stroke-width="1.3" stroke-dasharray="1.6 2.2"/>
<line x1="1594.3" y1="704" x2="1594.3" y2="1007" stroke="#e2e2e2" stroke-width="1.3" stroke-dasharray="1.6 2.2"/>
<circle cx="236.2" cy="745.4" r="29" fill="#414141"/><path d="M224.89999999999998 734.1 L247.5 756.6999999999999 M247.5 734.1 L224.89999999999998 756.6999999999999" stroke="#fff" stroke-width="6.9" stroke-linecap="round"/><g fill="none" stroke="#f4a68c" stroke-width="2.1"><circle cx="595.85" cy="743.6" r="32.6"/><path d="M595.85 711.0 C614.35 722.0 614.35 765.2 595.85 776.2 C577.35 765.2 577.35 722.0 595.85 711.0"/><line x1="595.7" y1="711.0" x2="595.7" y2="776.2"/><line x1="563.25" y1="743.4" x2="628.45" y2="743.4"/><path d="M571.61 721.8 Q595.85 734.5 620.09 721.8"/><path d="M571.61 765.4 Q595.85 752.5 620.09 765.4"/></g><path d="M605.7 753.1 L626.2 759 L619.6 763.3 L628.4 772.1 L624 776.4 L615.3 767.6 L611 774.2 Z" fill="#fff" stroke="#fff" stroke-width="4.5" stroke-linejoin="round"/><path d="M605.7 753.1 L626.2 759 L619.6 763.3 L628.4 772.1 L624 776.4 L615.3 767.6 L611 774.2 Z" fill="#f4a68c"/><g transform="translate(853.8,712.8) scale(0.302,0.304)"><path fill="#0ca7cb" d="M240 27.3c-8.8 3.9-18.3 6.6-28.2 7.8 10.2-6.1 17.9-15.7 21.6-27.2-9.5 5.6-20 9.7-31.2 11.9C193.2 10.2 180.4 4 166.1 4c-27.2 0-49.2 22-49.2 49.2 0 3.9.4 7.6 1.3 11.2C77.3 62.4 41 42.8 16.7 13.1c-4.2 7.3-6.7 15.7-6.7 24.8 0 17.1 8.7 32.1 21.9 41-8.1-.3-15.7-2.5-22.3-6.2v.6c0 23.9 17 43.8 39.5 48.3-4.1 1.1-8.5 1.7-13 1.7-3.2 0-6.200-.3-9.3-.9 6.2 19.6 24.4 33.8 46 34.2-16.8 13.2-38.1 21.1-61.2 21.1-4 0-7.9-.2-11.7-.7 21.8 14 47.7 22.1 75.5 22.1 90.6 0 140.1-75 140.1-140.1 0-2.1 0-4.3-.1-6.4 9.6-6.9 17.9-15.6 24.6-25.4z"/></g><rect x="1346.35" y="711.7" width="63.4" height="63.8" rx="15.8" fill="none" stroke="#8cc63f" stroke-width="6.8"/><circle cx="1377.6" cy="744" r="14.9" fill="none" stroke="#8cc63f" stroke-width="7"/><circle cx="1396.1" cy="725.5" r="4.3" fill="#8cc63f"/><rect x="1734.3" y="708.4" width="71.3" height="71" rx="10.5" fill="#0a3e62"/><path d="M1769.1 779.4 V754.2 H1763 Q1761.1 754.2 1761.1 752.3 V744 Q1761.1 742 1763 742 H1769.1 V736 C1769.1 726 1775 720.6 1783 720.6 H1790.5 Q1792.2 720.6 1792.2 722.5 V729.6 Q1792.2 731.5 1790.3 731.5 H1785 C1782 731.5 1780.4 733 1780.4 736 V742 H1790.3 Q1792.4 742 1792.1 744 L1791 752.5 Q1790.7 754.2 1789 754.2 H1780.4 V779.4 Z" fill="#fff"/><clipPath id="lgc"><rect x="1750" y="972.9" width="130" height="27.5"/></clipPath><path d="M1644.1 1000.4 V974.6 H1652.25 A7.15 7.15 0 0 1 1652.25 988.9 H1644.1 M1672.05 1000.4 V974.6 H1679.35 A6.1 6.1 0 0 1 1679.35 986.8 H1672.05 M1678.6 987 L1687.2 1000.4 M1722.2 986.45 A12.8 12.8 0 1 1 1696.6 986.45 A12.8 12.8 0 1 1 1722.2 986.45 M1733.8 974.7 V998.8 H1742.25 A12.05 12.05 0 0 0 1742.25 974.7 Z M1825.8 973.1 V999.8 M1898.43 977.24 A12.8 12.8 0 1 0 1898.43 995.96 M1912.9 973.1 V999.8" fill="none" stroke="#0f3d5e" stroke-width="3.1" stroke-linejoin="miter" stroke-miterlimit="10"/><path clip-path="url(#lgc)" d="M1760.9 1003.3 L1774.1 974.4 L1787.3 1003.3 M1786.9 970.2 L1800.9 999.3 L1814.7 970.2 M1841.9 1003 V974.5 L1863.6 998.6 V970" fill="none" stroke="#0f3d5e" stroke-width="3.1" stroke-linejoin="miter" stroke-miterlimit="10"/><path fill-rule="evenodd" d="M132.76 719.14 L144.50 719.14 L144.50 750.20 L149.74 750.20 L149.74 758.66 L144.50 758.66 L144.50 769.77 L132.76 769.77 L132.76 758.66 L112.50 758.66 L112.50 751.80 Z M123.94 750.20 L132.76 750.20 L132.76 735.50 Z" fill="#414141"/><path d="M181.10 719.14 L181.10 769.77 L169.66 769.77 L169.66 732.50 L157.90 735.60 L157.90 726.90 L178.60 719.14 Z" fill="#414141"/><g transform="translate(450,710) scale(0.065317)" fill="#f4a68c"><path d="M215 140 L660 140 L660 270 L350 270 L335 420 C370 405 410 398 455 400 C600 402 690 490 690 650 C690 810 590 920 430 920 C290 920 170 840 160 700 L320 700 C335 760 375 790 430 790 C495 790 525 740 525 655 C525 575 490 530 425 530 C375 530 340 542 318 556 L175 536 Z"/><path d="M800 915 L1335 915 L1335 785 L1030 785 L1190 600 C1260 520 1305 460 1305 380 C1305 215 1200 130 1045 130 C870 130 780 240 780 370 L945 370 C945 305 980 265 1045 265 C1105 265 1135 310 1135 365 C1135 400 1115 440 1080 480 L800 800 Z"/></g><path fill-rule="evenodd" d="M816.80 719.14 L828.54 719.14 L828.54 750.20 L833.78 750.20 L833.78 758.66 L828.54 758.66 L828.54 769.77 L816.80 769.77 L816.80 758.66 L796.54 758.66 L796.54 751.80 Z M807.98 750.20 L816.80 750.20 L816.80 735.50 Z" fill="#0ca7cb"/><g transform="translate(1224.84,709.5) scale(0.065317)" fill="#8cc63f"><path d="M800 915 L1335 915 L1335 785 L1030 785 L1190 600 C1260 520 1305 460 1305 380 C1305 215 1200 130 1045 130 C870 130 780 240 780 370 L945 370 C945 305 980 265 1045 265 C1105 265 1135 310 1135 365 C1135 400 1115 440 1080 480 L800 800 Z"/></g><path d="M1705.70 719.04 L1705.70 769.67 L1694.26 769.67 L1694.26 732.40 L1682.50 735.50 L1682.50 726.80 L1703.20 719.04 Z" fill="#0a3e62"/>
</svg>
<div class="t" id="ti0" style="left:40.36px;top:15.73px;font-size:38.6px;line-height:38.6px;font-weight:700;color:#111;transform:scaleX(0.9556);-webkit-text-stroke:0.75px #111;">¿Cuántos</div><div class="t" id="ti1" style="left:220.06px;top:15.73px;font-size:38.6px;line-height:38.6px;font-weight:700;color:#111;transform:scaleX(0.9821);-webkit-text-stroke:0.75px #111;">periódicos</div><div class="t" id="ti2" style="left:421.63px;top:15.73px;font-size:38.6px;line-height:38.6px;font-weight:700;color:#111;transform:scaleX(0.9841);-webkit-text-stroke:0.75px #111;">cerraron</div><div class="t" id="ti3" style="left:585.99px;top:15.73px;font-size:38.6px;line-height:38.6px;font-weight:700;color:#111;transform:scaleX(1.0033);-webkit-text-stroke:0.75px #111;">definitivamente?</div><div class="t" id="su0" style="left:40.60px;top:67.76px;font-size:31px;line-height:31px;font-weight:400;color:#404040;transform:scaleX(0.8789);">De</div><div class="t" id="su1" style="left:82.83px;top:67.76px;font-size:31px;line-height:31px;font-weight:400;color:#404040;transform:scaleX(0.9868);">los</div><div class="t" id="su2" style="left:130.61px;top:67.76px;font-size:31px;line-height:31px;font-weight:400;color:#404040;transform:scaleX(0.9519);">100</div><div class="t" id="su3" style="left:189.05px;top:67.76px;font-size:31px;line-height:31px;font-weight:400;color:#404040;transform:scaleX(0.9856);">periódicos</div><div class="t" id="su4" style="left:336.61px;top:67.76px;font-size:31px;line-height:31px;font-weight:400;color:#404040;transform:scaleX(0.9453);">que</div><div class="t" id="su5" style="left:393.68px;top:67.76px;font-size:31px;line-height:31px;font-weight:400;color:#404040;transform:scaleX(0.9671);">dejaron</div><div class="t" id="su6" style="left:501.93px;top:67.76px;font-size:31px;line-height:31px;font-weight:400;color:#404040;transform:scaleX(0.9399);">de</div><div class="t" id="su7" style="left:541.65px;top:67.76px;font-size:31px;line-height:31px;font-weight:400;color:#404040;transform:scaleX(0.9760);">circular,</div><div class="t" id="su8" style="left:654.33px;top:67.76px;font-size:31px;line-height:31px;font-weight:400;color:#404040;transform:scaleX(0.8674);">41</div><div class="t" id="su9" style="left:693.65px;top:67.76px;font-size:31px;line-height:31px;font-weight:400;color:#404040;transform:scaleX(0.9743);">cerraron</div><div class="t" id="su10" style="left:814.21px;top:67.76px;font-size:31px;line-height:31px;font-weight:400;color:#404040;transform:scaleX(0.9929);">definitivamente</div><div class="t" id="su11" style="left:1029.10px;top:67.76px;font-size:31px;line-height:31px;font-weight:400;color:#404040;transform:scaleX(0.9167);">y</div><div class="t" id="su12" style="left:1052.24px;top:67.76px;font-size:31px;line-height:31px;font-weight:400;color:#404040;transform:scaleX(0.9493);">59</div><div class="t" id="su13" style="left:1091.01px;top:67.76px;font-size:31px;line-height:31px;font-weight:400;color:#404040;transform:scaleX(0.9917);">migraron</div><div class="t" id="su14" style="left:1221.37px;top:67.76px;font-size:31px;line-height:31px;font-weight:400;color:#404040;transform:scaleX(0.8327);">a</div><div class="t" id="su15" style="left:1244.72px;top:67.76px;font-size:31px;line-height:31px;font-weight:400;color:#404040;transform:scaleX(0.9626);">las</div><div class="t" id="su16" style="left:1290.97px;top:67.76px;font-size:31px;line-height:31px;font-weight:400;color:#404040;transform:scaleX(1.0064);">plataformas</div><div class="t" id="su17" style="left:1463.06px;top:67.76px;font-size:31px;line-height:31px;font-weight:400;color:#404040;transform:scaleX(0.9754);">digitales:</div><div class="t" id="h1" style="left:109.79px;top:669.88px;font-size:24px;line-height:24px;font-weight:700;color:#111;transform:scaleX(0.9998);">Cierre definitivo</div><div class="t" id="h2" style="left:398.79px;top:669.98px;font-size:24px;line-height:24px;font-weight:700;color:#111;transform:scaleX(1.0002);">Plataformas digitales</div><div class="t" id="web" style="left:457.68px;top:794.50px;font-size:21.5px;line-height:21.5px;font-weight:400;color:#f0a08a;transform:scaleX(1.0292);-webkit-text-stroke:0.35px #f0a08a;">Web</div><div class="t" id="tw0" style="left:793.82px;top:793.68px;font-size:22px;line-height:22px;font-weight:400;color:#222222;transform:scaleX(1.0419);">Barinas</div><div class="t" id="tw1" style="left:794.80px;top:821.28px;font-size:22px;line-height:22px;font-weight:400;color:#12a4c6;transform:scaleX(1.0433);-webkit-text-stroke:0.95px #12a4c6;">La Noticia, de Barinas</div><div class="t" id="tw2" style="left:794.88px;top:848.88px;font-size:22px;line-height:22px;font-weight:400;color:#222222;transform:scaleX(1.0255);">Cojedes</div><div class="t" id="tw3" style="left:794.87px;top:876.48px;font-size:22px;line-height:22px;font-weight:400;color:#12a4c6;transform:scaleX(1.0281);-webkit-text-stroke:0.95px #12a4c6;">Ciudad Cojedes</div><div class="t" id="tw4" style="left:794.87px;top:904.08px;font-size:22px;line-height:22px;font-weight:400;color:#222222;transform:scaleX(1.0266);">Guárico</div><div class="t" id="tw5" style="left:794.87px;top:931.68px;font-size:22px;line-height:22px;font-weight:400;color:#12a4c6;transform:scaleX(1.0288);-webkit-text-stroke:0.95px #12a4c6;">Ciudad Guárico</div><div class="t" id="tw6" style="left:793.78px;top:959.28px;font-size:22px;line-height:22px;font-weight:400;color:#222222;transform:scaleX(1.0683);">Monagas</div><div class="t" id="tw7" style="left:794.81px;top:986.88px;font-size:22px;line-height:22px;font-weight:400;color:#12a4c6;transform:scaleX(1.0340);-webkit-text-stroke:0.95px #12a4c6;">El Sol de Maturín, de Monagas</div><div class="t" id="ig0" style="left:1273.65px;top:793.68px;font-size:22px;line-height:22px;font-weight:400;color:#222222;transform:scaleX(1.0271);">Guárico</div><div class="t" id="ig1" style="left:1273.63px;top:821.28px;font-size:22px;line-height:22px;font-weight:400;color:#8cc63f;transform:scaleX(1.0369);-webkit-text-stroke:0.95px #8cc63f;">La Jornada, de Guárico</div><div class="t" id="ig2" style="left:1273.74px;top:848.88px;font-size:22px;line-height:22px;font-weight:400;color:#222222;transform:scaleX(0.9770);">Lara</div><div class="t" id="ig3" style="left:1273.67px;top:876.48px;font-size:22px;line-height:22px;font-weight:400;color:#8cc63f;transform:scaleX(1.0117);-webkit-text-stroke:0.95px #8cc63f;">El Caroreño, de Lara</div><div class="t" id="fb0" style="left:1677.50px;top:794.98px;font-size:22px;line-height:22px;font-weight:400;color:#222222;transform:scaleX(1.0002);">Aragua</div><div class="t" id="fb1" style="left:1676.49px;top:822.28px;font-size:22px;line-height:22px;font-weight:400;color:#123f60;transform:scaleX(1.0228);-webkit-text-stroke:0.95px #123f60;">La Lupa, de Aragua</div><div class="t" id="fuente" style="left:56.05px;top:960.68px;font-size:24px;line-height:24px;font-weight:400;color:#444;transform:scaleX(0.9328);">Fuente: <b style="color:#222">Datos propios.</b></div>
</body></html>
